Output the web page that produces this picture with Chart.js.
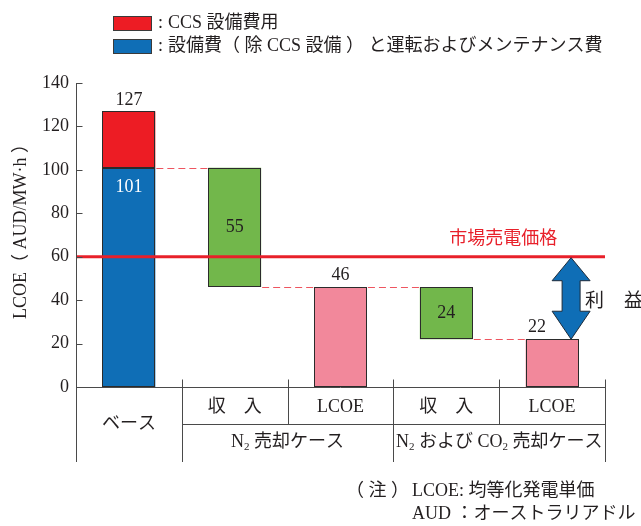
<!DOCTYPE html>
<html>
<head>
<meta charset="utf-8">
<script src="https://cdn.jsdelivr.net/npm/chart.js@4/dist/chart.umd.min.js"></script>
<style>
  html, body { margin: 0; padding: 0; background: #fff; }
  #wrap { width: 641px; height: 526px; position: relative; }
</style>
</head>
<body>
<div id="wrap"><canvas id="c" width="641" height="526"></canvas></div>
<script>
// LCOE breakdown (AUD/MW·h)
const categories = ['ベース', '収　入', 'LCOE', '収　入', 'LCOE'];
const barLow  = [0, 46, 0, 22, 0];          // bottom of each bar
const barHigh = [101, 101, 46, 46, 22];     // top of each bar
const ccsLow  = [101, null, null, null, null];
const ccsHigh = [127, null, null, null, null];
const marketPrice = 60;
const yMin = 0, yMax = 140, yStep = 20;

const barColors = ['#0f6eb6', '#72b74b', '#f2889b', '#72b74b', '#f2889b'];
const ccsColor = '#ed1c24';

const legendItems = [
  { color: '#ed1c24', text: 'CCS 設備費用' },
  { color: '#0f6eb6', text: '設備費（ 除 CCS 設備 ） と運転およびメンテナンス費' }
];
const groupSpans = [[1, 2], [3, 4]];
const groupNames = [
  [['N'], ['2', 'sub'], [' 売却ケース']],
  [['N'], ['2', 'sub'], [' および CO'], ['2', 'sub'], [' 売却ケース']]
];
const priceLabel = '市場売電価格';
const profitChars = ['利', '益'];
const yTitle = 'LCOE（ AUD/MW·h ）';
const notes = [
  ['（ 注 ）', 'LCOE: 均等化発電単価'],
  ['', 'AUD ：オーストラリアドル']
];

const FAMILY = '"Liberation Serif", "Noto Sans CJK JP", serif';
const font = s => `${s}px ${FAMILY}`;
const INK = '#231f20';
const LINE = '#4a4a4a';
const EDGE = '#2b2b2b';

function hline(ctx, x0, x1, y) { ctx.beginPath(); ctx.moveTo(x0, y); ctx.lineTo(x1, y); ctx.stroke(); }
function vline(ctx, x, y0, y1) { ctx.beginPath(); ctx.moveTo(x, y0); ctx.lineTo(x, y1); ctx.stroke(); }

// text made of runs; 'sub' runs are drawn smaller and lowered
function drawRuns(ctx, runs, cx, cy, size) {
  const subSize = Math.round(size * 0.62);
  const widths = runs.map(r => { ctx.font = font(r[1] === 'sub' ? subSize : size); return ctx.measureText(r[0]).width; });
  let x = cx - widths.reduce((a, b) => a + b, 0) / 2;
  ctx.textAlign = 'left';
  ctx.textBaseline = 'middle';
  runs.forEach((r, i) => {
    const sub = r[1] === 'sub';
    ctx.font = font(sub ? subSize : size);
    ctx.fillText(r[0], x, sub ? cy + size * 0.28 : cy);
    x += widths[i];
  });
}

const overlay = {
  id: 'overlay',
  afterDatasetsDraw(chart) {
    const { ctx, chartArea: a, scales: { x, y } } = chart;
    const bars = chart.getDatasetMeta(0).data;
    ctx.save();

    // bar outlines
    ctx.strokeStyle = EDGE;
    ctx.lineWidth = 1;
    const outline = (b, lo, hi) => {
      const x0 = Math.round(b.x - b.width / 2) + 0.5, x1 = Math.round(b.x + b.width / 2) - 0.5;
      const y0 = Math.round(y.getPixelForValue(hi)) + 0.5, y1 = Math.round(y.getPixelForValue(lo)) - 0.5;
      ctx.strokeRect(x0, y0, x1 - x0, y1 - y0);
    };
    bars.forEach((b, i) => outline(b, barLow[i], barHigh[i]));
    chart.getDatasetMeta(1).data.forEach((b, i) => { if (ccsHigh[i] != null) outline(b, ccsLow[i], ccsHigh[i]); });

    // dashed connectors between neighbouring bars
    ctx.strokeStyle = '#ee5560';
    ctx.lineWidth = 1;
    ctx.setLineDash([7, 4]);
    for (let i = 0; i < bars.length - 1; i++) {
      const yy = Math.round(y.getPixelForValue(barHigh[i + 1])) + 0.5;
      hline(ctx, bars[i].x + bars[i].width / 2 + 1, bars[i + 1].x - bars[i + 1].width / 2, yy);
    }
    ctx.setLineDash([]);

    // market price line
    const py = y.getPixelForValue(marketPrice);
    ctx.strokeStyle = '#e8202a';
    ctx.lineWidth = 3;
    hline(ctx, a.left, a.right, py);
    ctx.fillStyle = '#e8202a';
    ctx.font = '18px "Noto Sans CJK JP", sans-serif';
    ctx.textAlign = 'center';
    ctx.textBaseline = 'middle';
    ctx.fillText(priceLabel, (x.getPixelForValue(3) + x.getPixelForValue(4)) / 2 + 4, py - 20);

    // value labels
    ctx.font = font(18);
    bars.forEach((b, i) => {
      const v = barHigh[i] - barLow[i];
      const top = y.getPixelForValue(barHigh[i]);
      if (ccsHigh[i] != null) {
        ctx.fillStyle = '#ffffff';
        ctx.fillText(String(v), b.x, top + 20);
        ctx.fillStyle = INK;
        ctx.fillText(String(ccsHigh[i]), b.x, y.getPixelForValue(ccsHigh[i]) - 11);
      } else if (barLow[i] > 0) {
        ctx.fillStyle = INK;
        ctx.fillText(String(v), b.x, (top + y.getPixelForValue(barLow[i])) / 2);
      } else {
        ctx.fillStyle = INK;
        const shift = i === bars.length - 1 ? -15 : 0;
        ctx.fillText(String(v), b.x + shift, top - 12);
      }
    });

    // profit arrow between market price and the last LCOE bar
    const last = bars[bars.length - 1];
    const cx = last.x + 19;
    const yTop = py + 1;
    const yBot = y.getPixelForValue(barHigh[barHigh.length - 1]);
    const hw = 19, sw = 9, ht = 23, hb = 28;
    ctx.beginPath();
    ctx.moveTo(cx, yTop);
    ctx.lineTo(cx + hw, yTop + ht);
    ctx.lineTo(cx + sw, yTop + ht);
    ctx.lineTo(cx + sw, yBot - hb);
    ctx.lineTo(cx + hw, yBot - hb);
    ctx.lineTo(cx, yBot);
    ctx.lineTo(cx - hw, yBot - hb);
    ctx.lineTo(cx - sw, yBot - hb);
    ctx.lineTo(cx - sw, yTop + ht);
    ctx.lineTo(cx - hw, yTop + ht);
    ctx.closePath();
    ctx.fillStyle = '#0f6eb6';
    ctx.fill();
    ctx.strokeStyle = '#1d2b3a';
    ctx.lineWidth = 1;
    ctx.stroke();

    ctx.fillStyle = INK;
    ctx.font = '19px "Noto Sans CJK JP", sans-serif';
    ctx.textAlign = 'left';
    ctx.fillText(profitChars[0], cx + 14, (yTop + yBot) / 2 + 1);
    ctx.fillText(profitChars[1], cx + 53, (yTop + yBot) / 2 + 1);
    ctx.restore();
  },
  afterDraw(chart) {
    const { ctx, chartArea: a, scales: { x, y } } = chart;
    ctx.save();
    ctx.strokeStyle = LINE;
    ctx.lineWidth = 1;

    const bottom = Math.round(a.bottom) + 0.5;
    const left = Math.round(a.left) + 0.5;
    const tableBottom = 462, rowLine = 424.5;

    // y axis with inward ticks
    vline(ctx, left, Math.round(y.getPixelForValue(yMax)), tableBottom);
    for (let v = yMin; v <= yMax; v += yStep) {
      const ty = Math.round(y.getPixelForValue(v)) + 0.5;
      hline(ctx, left, left + 6, ty);
    }

    // x axis and category table
    hline(ctx, a.left, a.right, bottom);
    const w = x.getPixelForValue(1) - x.getPixelForValue(0);
    const edge = k => Math.round(x.getPixelForValue(0) - w / 2 + k * w) + 0.5;
    for (let k = 1; k <= categories.length; k++) {
      const deep = k % 2 === 1;
      vline(ctx, edge(k), bottom - 8, deep ? tableBottom : rowLine);
    }
    hline(ctx, edge(1), edge(categories.length), rowLine);

    ctx.fillStyle = INK;
    ctx.textAlign = 'center';
    ctx.textBaseline = 'middle';
    ctx.font = font(18);
    categories.forEach((c, i) => {
      const cx = x.getPixelForValue(i);
      ctx.fillText(c, cx, i === 0 ? 424 : 407);
    });
    groupSpans.forEach((s, g) => {
      const cx = (x.getPixelForValue(s[0]) + x.getPixelForValue(s[1])) / 2;
      drawRuns(ctx, groupNames[g], cx, 442, 18);
    });

    // y axis title
    ctx.save();
    ctx.translate(21, (a.top + a.bottom) / 2 - 8);
    ctx.rotate(-Math.PI / 2);
    ctx.font = font(18);
    ctx.textAlign = 'center';
    ctx.fillText(yTitle, 0, 0);
    ctx.restore();

    // legend
    legendItems.forEach((it, i) => {
      const top = 16 + i * 23;
      ctx.fillStyle = it.color;
      ctx.fillRect(113, top, 38, 14);
      ctx.strokeStyle = '#3a3a3a';
      ctx.strokeRect(113.5, top + 0.5, 38, 14);
      ctx.fillStyle = INK;
      ctx.font = font(18);
      ctx.textAlign = 'left';
      ctx.fillText(':', 158, top + 7);
      ctx.fillText(it.text, 168, top + 7);
    });

    // notes
    notes.forEach((n, i) => {
      const ny = 491 + i * 23;
      ctx.font = font(18);
      ctx.textAlign = 'left';
      if (n[0]) ctx.fillText(n[0], 346, ny);
      ctx.fillText(n[1], 412, ny);
    });
    ctx.restore();
  }
};

new Chart(document.getElementById('c'), {
  type: 'bar',
  data: {
    labels: categories,
    datasets: [
      {
        label: '設備費と運転およびメンテナンス費',
        data: barLow.map((lo, i) => [lo, barHigh[i]]),
        backgroundColor: barColors,
        borderWidth: 0,
        grouped: false,
        categoryPercentage: 1,
        barPercentage: 0.5
      },
      {
        label: 'CCS 設備費用',
        data: ccsLow.map((lo, i) => lo == null ? null : [lo, ccsHigh[i]]),
        backgroundColor: ccsColor,
        borderWidth: 0,
        grouped: false,
        categoryPercentage: 1,
        barPercentage: 0.5
      }
    ]
  },
  options: {
    responsive: false,
    devicePixelRatio: 1,
    animation: false,
    layout: { padding: { left: 0, right: 36, top: 83, bottom: 139 } },
    plugins: { legend: { display: false }, tooltip: { enabled: false } },
    scales: {
      x: { display: false },
      y: {
        min: yMin,
        max: yMax,
        afterFit: s => { s.width = 76; },
        grid: { display: false, drawTicks: false },
        border: { display: false },
        ticks: {
          stepSize: yStep,
          padding: 7,
          color: INK,
          font: { family: '"Liberation Serif", serif', size: 18 }
        }
      }
    }
  },
  plugins: [overlay]
});
</script>
</body>
</html>
